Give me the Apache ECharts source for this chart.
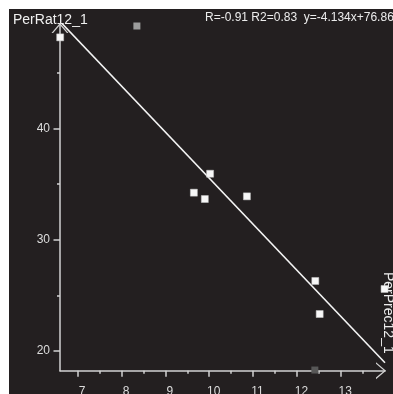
<!DOCTYPE html>
<html>
<head>
<meta charset="utf-8" />
<title>PerRat12_1 vs PerPrec12_1</title>
<script src="https://cdn.jsdelivr.net/npm/echarts@6/dist/echarts.min.js"></script>
<style>
  html, body { margin: 0; padding: 0; background: #ffffff; }
  #main { position: absolute; left: 9px; top: 9px; width: 384px; height: 385px; }
</style>
</head>
<body>
<div id="main"></div>
<script type="text/javascript">
    // points used in the fit (PerPrec12_1, PerRat12_1)
    var fitPoints = [
        [6.60, 48.17], [10.02, 35.92], [9.65, 34.22], [9.90, 33.65],
        [10.86, 33.89], [12.42, 26.29], [12.52, 23.32], [14.00, 25.57]
    ];
    // excluded points (drawn grey)
    var greyLight = [[8.35, 49.19]];
    var greyDark = [[12.41, 18.29]];
    // regression line ends, y=-4.134x+76.864
    var fitLine = [[6.596, 49.60], [14.01, 18.95]];

    var xMajor = [7, 8, 9, 10, 11, 12, 13];
    var xMinor = [7.5, 8.5, 9.5, 10.5, 11.5, 12.5, 13.5];
    var yMajor = [20, 30, 40];
    var yMinor = [25, 35, 45];

    var xTitle = 'PerPrec12_1';
    var yTitle = 'PerRat12_1';
    var statText = 'R=-0.91 R2=0.83  y=-4.134x+76.864';

    var axisColor = '#d2d2d2';
    var font = 'Liberation Sans, Arial, sans-serif';
    var chevron = 'path://M0,10 L8.5,0 L17,10 L15.4,10 L8.5,1.9 L1.6,10 Z';

    var myChart = echarts.init(document.getElementById('main'));

    myChart.setOption({
        backgroundColor: '#231f20',
        animation: false,
        grid: { left: 51, right: 8, top: 15, bottom: 23.3, containLabel: false, outerBoundsMode: 'none' },
        xAxis: [
            {
                type: 'value', min: 6.596, max: 14.01,
                axisLine: { lineStyle: { color: axisColor, width: 1.5 },
                    symbol: ['none', chevron], symbolSize: [17, 10], symbolOffset: [0, -4] },
                axisTick: { customValues: xMajor, length: 6, lineStyle: { color: axisColor, width: 1.5 } },
                axisLabel: { customValues: xMajor, margin: 15, color: '#dcdcdc', fontSize: 12,
                    fontFamily: font, padding: [0, 0, 0, 9] },
                splitLine: { show: false }
            },
            {
                type: 'value', min: 6.596, max: 14.01, position: 'bottom',
                axisLine: { show: false },
                axisTick: { show: true, customValues: xMinor, length: 3, lineStyle: { color: axisColor, width: 1.5 } },
                axisLabel: { show: false },
                splitLine: { show: false }
            }
        ],
        yAxis: [
            {
                type: 'value', min: 18.23, max: 49.37,
                axisLine: { lineStyle: { color: axisColor, width: 1.5 },
                    symbol: ['none', chevron], symbolSize: [17, 10], symbolOffset: [0, -4] },
                axisTick: { customValues: yMajor, length: 6.5, lineStyle: { color: axisColor, width: 1.5 } },
                axisLabel: { customValues: yMajor, margin: 10, color: '#dcdcdc', fontSize: 12, fontFamily: font },
                splitLine: { show: false }
            },
            {
                type: 'value', min: 18.23, max: 49.37, position: 'left',
                axisLine: { show: false },
                axisTick: { show: true, customValues: yMinor, length: 3, lineStyle: { color: axisColor, width: 1.5 } },
                axisLabel: { show: false },
                splitLine: { show: false }
            }
        ],
        graphic: [
            { type: 'text', left: 4, top: 4, style: { text: yTitle, fill: '#f0f0f0', font: '14px ' + font } },
            { type: 'text', left: 196, top: 2.5, style: { text: statText, fill: '#ececec', font: '12px ' + font } },
            { type: 'text', x: 379, y: 263, rotation: -Math.PI / 2,
              style: { text: xTitle, fill: '#ececec', font: '14px ' + font,
                       textAlign: 'left', textVerticalAlign: 'middle' } }
        ],
        series: [
            {
                name: 'fit', type: 'line', data: fitLine, symbol: 'none',
                lineStyle: { color: '#f4f4f4', width: 1.6 }, z: 3
            },
            {
                name: 'points', type: 'scatter', data: fitPoints, symbol: 'rect', symbolSize: 7,
                clip: false, itemStyle: { color: '#f7f7f7', opacity: 1, borderColor: '#c8c8c8', borderWidth: 0.5 }, z: 4
            },
            {
                name: 'excluded', type: 'scatter', data: greyLight, symbol: 'rect', symbolSize: 7,
                clip: false, itemStyle: { color: '#9c9c9c', opacity: 1 }, z: 4
            },
            {
                name: 'excluded2', type: 'scatter', data: greyDark, symbol: 'rect', symbolSize: 7,
                clip: false, itemStyle: { color: '#575757', opacity: 1 }, z: 4
            }
        ]
    });
</script>
</body>
</html>
